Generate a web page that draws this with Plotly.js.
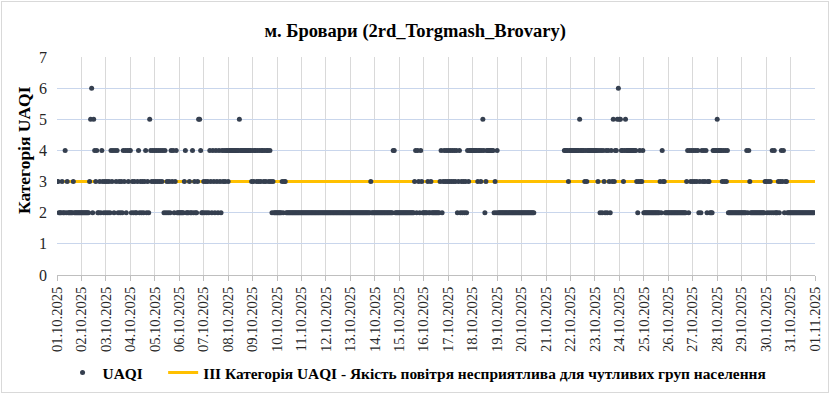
<!DOCTYPE html>
<html>
<head>
<meta charset="utf-8">
<script src="https://cdn.plot.ly/plotly-3.0.1.min.js"></script>
<style>
  html, body { margin: 0; padding: 0; background: #fff; }
  #wrap { position: relative; width: 832px; height: 394px; }
  #chart { position: absolute; left: 0; top: 0; width: 832px; height: 394px; }
  #frame { position: absolute; left: 1px; top: 1px; width: 826px; height: 390px; border: 1px solid #d9d9d9; pointer-events: none; }
</style>
</head>
<body>
<div id="wrap"><div id="chart"></div><div id="frame"></div></div>
<script>
// Day labels (x axis ticks)
const days = ['01.10.2025','02.10.2025','03.10.2025','04.10.2025','05.10.2025','06.10.2025','07.10.2025',
  '08.10.2025','09.10.2025','10.10.2025','11.10.2025','12.10.2025','13.10.2025','14.10.2025','15.10.2025',
  '16.10.2025','17.10.2025','18.10.2025','19.10.2025','20.10.2025','21.10.2025','22.10.2025','23.10.2025',
  '24.10.2025','25.10.2025','26.10.2025','27.10.2025','28.10.2025','29.10.2025','30.10.2025','31.10.2025','01.11.2025'];

// Hourly UAQI category per day, one character per hour (00..23); '-' = no data
const hourlyUAQI = [
  '332223224232222232222222', // 01.10
  '222222223562543422324323', // 02.10
  '232324342434232324342434', // 03.10
  '423232234232323423254343', // 04.10
  '434343434242323243423422', // 05.10
  '222223422232242322355422', // 06.10
  '323232432432432432434344', // 07.10
  '344444444445444444444443', // 08.10
  '434434343443434434323222', // 09.10
  '222223233222222222222222', // 10.10
  '222222222222222222222222', // 11.10
  '222222222222222222222222', // 12.10
  '222222222222222222223222', // 13.10
  '222222222222222222442222', // 14.10
  '222222222222222342432432', // 15.10
  '222232232222222234234343', // 16.10
  '434343434234232323243444', // 17.10
  '444443443454234444444232', // 18.10
  '422222222222222222222222', // 19.10
  '2222222222222-----------', // 20.10
  '------------------444434', // 21.10
  '444444444544443434444444', // 22.10
  '444342424324243243534456', // 23.10
  '554434544444444443234334', // 24.10
  '222222222222222232433222', // 25.10
  '222222222222222222342434', // 26.10
  '343434232434342332224444', // 27.10
  '544443434342222222222222', // 28.10
  '222224243222222222222223', // 29.10
  '323232424222323434233222', // 30.10
  '222222222222222222222222'  // 31.10
];

// Threshold: III category
const thresholdValue = 3;
const seriesName = 'UAQI';
const thresholdName = 'III Категорія UAQI - Якість повітря несприятлива для чутливих груп населення';
const titleText = 'м. Бровари (2rd_Torgmash_Brovary)';
const yTitle = 'Категорія UAQI';

function toIso(d) { const p = d.split('.'); return p[2] + '-' + p[1] + '-' + p[0]; }
const dayIso = days.map(toIso);

const xs = [], ys = [];
hourlyUAQI.forEach((s, di) => {
  for (let h = 0; h < s.length; h++) {
    const c = s[h];
    if (c === '-') continue;
    xs.push(dayIso[di] + ' ' + String(h).padStart(2, '0') + ':00');
    ys.push(Number(c));
  }
});

const F = '"Liberation Serif", "Times New Roman", serif';

const traces = [
  {
    type: 'scatter', mode: 'lines', name: '<b>' + thresholdName + '</b>',
    x: [dayIso[0], dayIso[dayIso.length - 1]],
    y: [thresholdValue, thresholdValue],
    line: { color: '#FFC000', width: 3 },
    legendrank: 2, hoverinfo: 'skip'
  },
  {
    type: 'scatter', mode: 'markers', name: '<b>' + seriesName + '</b>&nbsp;&nbsp;&nbsp;&nbsp;',
    x: xs, y: ys,
    marker: { color: '#353f4f', size: 5 },
    legendrank: 1
  }
];

const layout = {
  width: 832, height: 394,
  margin: { l: 57, r: 17, t: 57, b: 119, autoexpand: false },
  paper_bgcolor: '#ffffff', plot_bgcolor: '#ffffff',
  font: { family: F, color: '#262626', size: 15 },
  title: {
    text: '<b>' + titleText + '</b>',
    font: { family: F, size: 18.5, color: '#000000' },
    x: 0.499, xref: 'container', xanchor: 'center',
    y: 1 - 31 / 394, yref: 'container', yanchor: 'middle'
  },
  xaxis: {
    type: 'date',
    range: [dayIso[0], dayIso[dayIso.length - 1]],
    tickvals: dayIso, ticktext: days,
    tickangle: -90,
    tickfont: { family: F, size: 14.5, color: '#262626' },
    showgrid: true, gridcolor: '#d9d9d9', gridwidth: 1,
    showline: true, linecolor: '#bfbfbf', linewidth: 1,
    ticks: 'outside', ticklen: 5, tickcolor: '#bfbfbf',
    zeroline: false, fixedrange: true, automargin: false
  },
  yaxis: {
    range: [0, 7], dtick: 1, tick0: 0,
    tickfont: { family: F, size: 16, color: '#262626' },
    ticklabelstandoff: 9,
    showgrid: true, gridcolor: '#c9d6ec', gridwidth: 1,
    zeroline: false, showline: false, ticks: '',
    automargin: false, fixedrange: true
  },
  annotations: [{
    text: '<b>' + yTitle + '</b>',
    xref: 'paper', yref: 'paper',
    x: (24 - 57) / 758, y: (275 - 150) / 218,
    xanchor: 'center', yanchor: 'middle',
    textangle: -90, showarrow: false,
    font: { family: F, size: 17.5, color: '#000000' }
  }],
  showlegend: true,
  legend: {
    orientation: 'h', x: 0.475, xanchor: 'center', y: -0.45, yanchor: 'middle',
    font: { family: F, size: 15.4, color: '#000000' },
    itemwidth: 30, traceorder: 'normal'
  }
};

Plotly.newPlot('chart', traces, layout, { displayModeBar: false, staticPlot: true });
</script>
</body>
</html>
